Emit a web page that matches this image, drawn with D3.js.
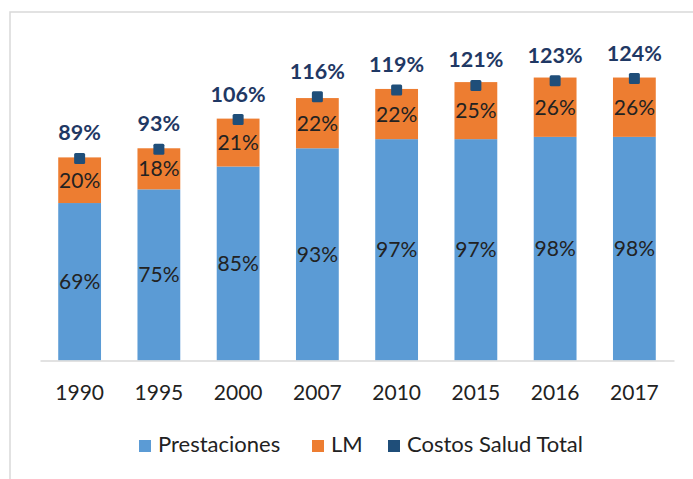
<!DOCTYPE html>
<html>
<head>
<meta charset="utf-8">
<script src="https://cdn.jsdelivr.net/npm/d3@7"></script>
<style>
  html, body { margin: 0; padding: 0; background: #ffffff; }
  svg { display: block; font-family: Lato, "Open Sans", sans-serif; }
</style>
</head>
<body>
<svg id="chart" width="693" height="479"></svg>
<script>
const years = ["1990", "1995", "2000", "2007", "2010", "2015", "2016", "2017"];
const prestaciones = [69, 75, 85, 93, 97, 97, 98, 98];
const lm = [20, 18, 21, 22, 22, 25, 26, 26];
const costosTotal = [89, 93, 106, 116, 119, 121, 123, 124];
const seriesNames = ["Prestaciones", "LM", "Costos Salud Total"];

const colors = { prest: "#5b9bd5", lm: "#ed7d31", total: "#1f4e79", totalText: "#1f3864", text: "#222222" };

const svg = d3.select("#chart");

// frame
svg.append("path")
  .attr("d", "M10,479V12H693")
  .attr("fill", "none")
  .attr("stroke", "#d9d9d9")
  .attr("stroke-width", 1.5);

const baseY = 360.5;
const x = d3.scaleBand().domain(years).range([40, 674]).paddingInner(0.46).paddingOuter(0.23);
const y = d3.scaleLinear().domain([0, 140]).range([baseY, baseY - 140 * 2.282]);

const rows = years.map((yr, i) => ({ year: yr, prest: prestaciones[i], lm: lm[i], total: costosTotal[i] }));

// bars
const g = svg.append("g");
g.selectAll("rect.prest").data(rows).join("rect")
  .attr("class", "prest")
  .attr("x", d => x(d.year)).attr("width", x.bandwidth())
  .attr("y", d => y(d.prest)).attr("height", d => y(0) - y(d.prest))
  .attr("fill", colors.prest);
g.selectAll("rect.lm").data(rows).join("rect")
  .attr("class", "lm")
  .attr("x", d => x(d.year)).attr("width", x.bandwidth())
  .attr("y", d => y(d.prest + d.lm)).attr("height", d => y(d.prest) - y(d.prest + d.lm))
  .attr("fill", colors.lm);

// x axis
const axis = svg.append("g")
  .attr("transform", `translate(0,${baseY})`)
  .call(d3.axisBottom(x).tickSize(0).tickSizeOuter(0).tickPadding(25));
axis.select(".domain").attr("stroke", "#d9d9d9").attr("stroke-width", 1.5);
axis.selectAll("text").attr("font-family", "Lato, sans-serif").attr("font-size", 21).attr("fill", "#222222");

// inner labels
g.selectAll("text.prestLab").data(rows).join("text")
  .attr("class", "prestLab")
  .attr("x", d => x(d.year) + x.bandwidth() / 2)
  .attr("y", d => (y(0) + y(d.prest)) / 2)
  .attr("dy", "0.36em")
  .attr("text-anchor", "middle")
  .attr("font-size", 21)
  .attr("fill", colors.text)
  .text(d => d.prest + "%");
g.selectAll("text.lmLab").data(rows).join("text")
  .attr("class", "lmLab")
  .attr("x", d => x(d.year) + x.bandwidth() / 2)
  .attr("y", d => (y(d.prest) + y(d.prest + d.lm)) / 2)
  .attr("dy", "0.36em")
  .attr("text-anchor", "middle")
  .attr("font-size", 21)
  .attr("fill", colors.text)
  .text(d => d.lm + "%");

// total markers
const ms = 11;
g.selectAll("rect.tot").data(rows).join("rect")
  .attr("class", "tot")
  .attr("x", d => x(d.year) + x.bandwidth() / 2 - ms / 2)
  .attr("y", d => y(d.total) - ms / 2 + 1)
  .attr("width", ms).attr("height", ms)
  .attr("rx", 1.5)
  .attr("fill", colors.total);
g.selectAll("text.totLab").data(rows).join("text")
  .attr("class", "totLab")
  .attr("x", d => x(d.year) + x.bandwidth() / 2)
  .attr("y", d => y(d.total) - 17)
  .attr("text-anchor", "middle")
  .attr("font-size", 21.5)
  .attr("font-weight", "bold")
  .attr("fill", colors.totalText)
  .text(d => d.total + "%");

// legend
const legendItems = [
  { name: seriesNames[0], color: colors.prest, x: 139 },
  { name: seriesNames[1], color: colors.lm, x: 312 },
  { name: seriesNames[2], color: colors.total, x: 388 }
];
const leg = svg.append("g");
legendItems.forEach(it => {
  leg.append("rect").attr("x", it.x).attr("y", 440).attr("width", 12).attr("height", 12).attr("fill", it.color);
  leg.append("text").attr("x", it.x + 19).attr("y", 452)
    .attr("font-size", 22).attr("fill", "#222222").text(it.name);
});
</script>
</body>
</html>
